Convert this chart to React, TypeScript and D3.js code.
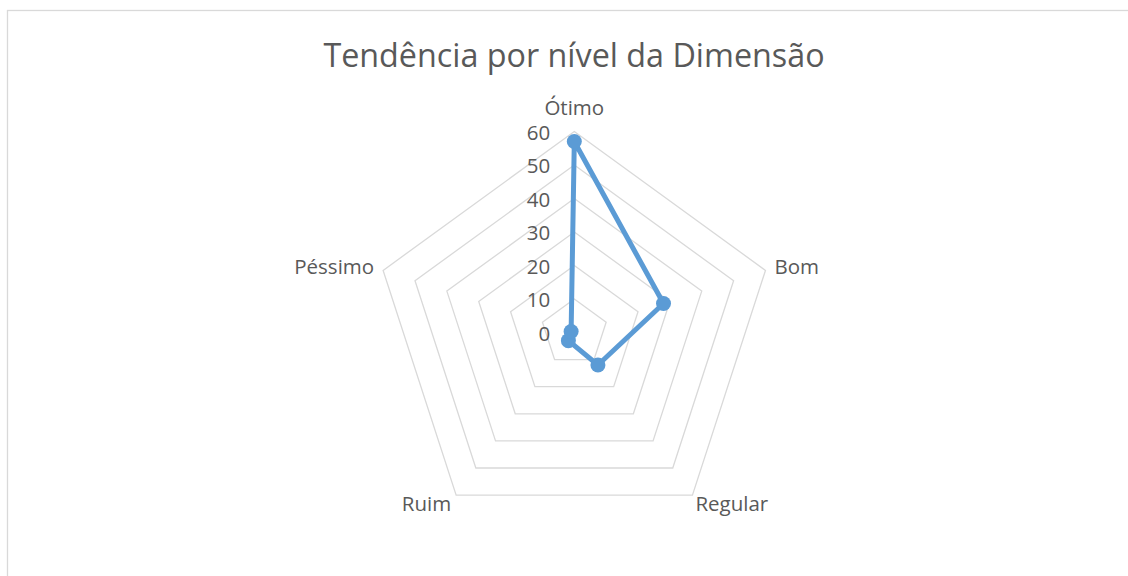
import React from "react";
import * as d3 from "d3";

const categories = ["Ótimo", "Bom", "Regular", "Ruim", "Péssimo"];
const values = [57, 28, 12, 3, 1];
const ticks = [0, 10, 20, 30, 40, 50, 60];
const title = "Tendência por nível da Dimensão";

const W = 1128;
const H = 576;
const cx = 574.3;
const cy = 332.5;
const R = 201;
const FONT = "'Open Sans', sans-serif";
const TEXT = "#595959";

export default function App() {
  const r = d3.scaleLinear().domain([0, 60]).range([0, R]);
  const angle = d3
    .scaleLinear()
    .domain([0, categories.length])
    .range([-Math.PI / 2, (3 * Math.PI) / 2]);
  const pt = (i: number, v: number): [number, number] => [
    cx + r(v) * Math.cos(angle(i)),
    cy + r(v) * Math.sin(angle(i)),
  ];
  const line = d3.line<[number, number]>().curve(d3.curveLinearClosed);
  const dataPts = values.map((v, i) => pt(i, v));

  const labelPos = categories.map((c, i) => {
    const [x, y] = pt(i, 60);
    let anchor: "start" | "middle" | "end" = "middle";
    let lx = x, ly = y;
    if (i === 0) { ly = y - 25; }
    else if (i === 1) { anchor = "start"; lx = x + 9; ly = y - 4; }
    else if (i === 2) { anchor = "start"; lx = x + 3; ly = y + 8; }
    else if (i === 3) { anchor = "end"; lx = x - 5; ly = y + 8; }
    else { anchor = "end"; lx = x - 9; ly = y - 4; }
    return { c, lx, ly, anchor };
  });

  return (
    <svg width={W} height={H} style={{ position: "absolute", left: 0, top: 0 }} fontFamily={FONT}>
      <rect x={0} y={0} width={W} height={H} fill="#fff" />
      <rect x={7.5} y={10.5} width={1300} height={800} fill="#fff" stroke="#D9D9D9" strokeWidth={1.3} />
      <text x={574} y={54} textAnchor="middle" dominantBaseline="central" fontSize={32.3} fill={TEXT}>
        {title}
      </text>
      {ticks.slice(1).map((t) => (
        <path
          key={t}
          d={line(categories.map((_, i) => pt(i, t))) || ""}
          fill="none"
          stroke="#D9D9D9"
          strokeWidth={1.3}
        />
      ))}
      {ticks.map((t) => (
        <text key={t} x={cx - 24} y={cy - r(t)} textAnchor="end" dominantBaseline="central" fontSize={20.5} fill={TEXT}>
          {t}
        </text>
      ))}
      {labelPos.map((l) => (
        <text key={l.c} x={l.lx} y={l.ly} textAnchor={l.anchor} dominantBaseline="central" fontSize={20.5} fill={TEXT}>
          {l.c}
        </text>
      ))}
      <path d={line(dataPts) || ""} fill="none" stroke="#5B9BD5" strokeWidth={5} strokeLinejoin="round" />
      {dataPts.map((p, i) => (
        <circle key={i} cx={p[0]} cy={p[1]} r={7.5} fill="#5B9BD5" />
      ))}
    </svg>
  );
}
